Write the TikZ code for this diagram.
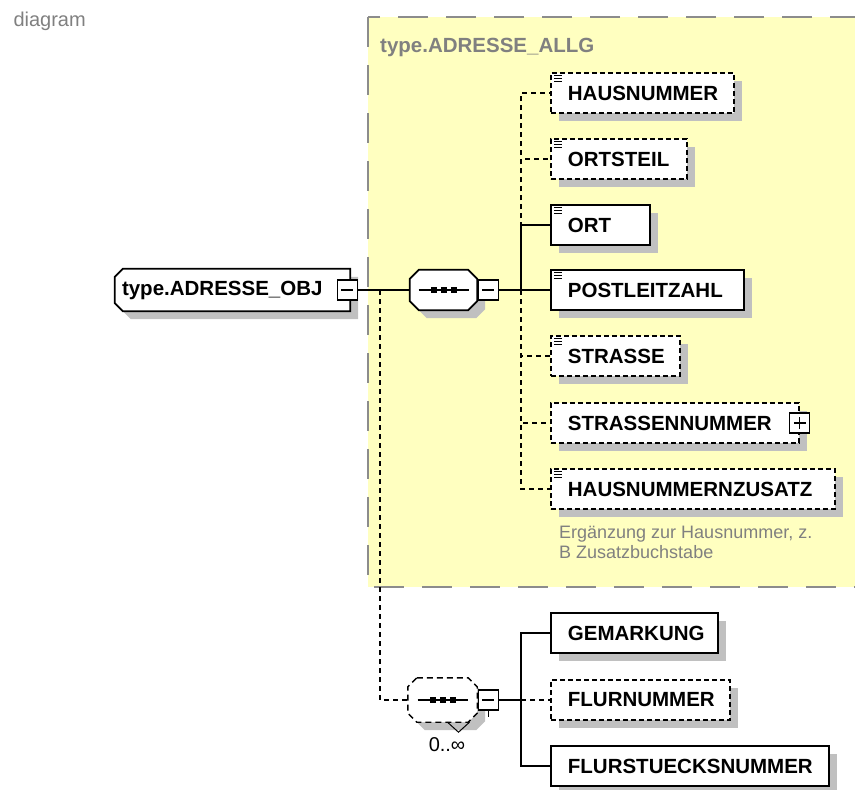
\documentclass[tikz,border=0pt]{standalone}
\usepackage{fontspec}
\setmainfont{Liberation Sans}
\usetikzlibrary{shadows,backgrounds}

\definecolor{schemayellow}{HTML}{FFFFC0}
\definecolor{shadowgray}{HTML}{C0C0C0}
\definecolor{framegray}{HTML}{8C8C8C}
\definecolor{notegray}{HTML}{808080}

% three little lines in the corner of a simple-type element
\newcommand{\typeicon}[1]{%
  \foreach \k in {3pt,6pt,9pt}
    \draw[line width=1.2pt] ([xshift=4pt,yshift=-\k]#1.north west) -- ++(8,0);}
% octagon round a compositor node
\newcommand{\compshape}[2]{%
  \draw[#2] ([xshift=9pt]#1.north west) -- ([xshift=-9pt]#1.north east)
    -- ([yshift=-9pt]#1.north east) -- ([yshift=9pt]#1.south east)
    -- ([xshift=-9pt]#1.south east) -- ([xshift=9pt]#1.south west)
    -- ([yshift=9pt]#1.south west) -- ([yshift=-9pt]#1.north west) -- cycle;}
% sequence symbol
\newcommand{\seqdots}[1]{%
  \draw[line width=1.5pt] ([xshift=-25pt]#1.center) -- ([xshift=25pt]#1.center);
  \foreach \d in {-10,0,10}
    \fill ([xshift=\d pt]#1.center) +(-3,-3) rectangle +(3,3);}

\begin{document}
\begin{tikzpicture}[x=1pt, y=-1pt,
    boxshadow/.style={drop shadow={shadow xshift=8pt, shadow yshift=-8pt, fill=shadowgray, draw=none, opacity=1}},
    elemfont/.style={font=\bfseries\fontsize{20.5}{24}\selectfont},
    elembox/.style={elemfont, draw, line width=1.8pt, fill=white, anchor=west, align=left,
      inner xsep=17pt, inner ysep=0pt, minimum height=40pt, boxshadow},
    elemreq/.style={elembox},
    elemopt/.style={elembox, dash pattern=on 5pt off 3pt},
    linkreq/.style={line width=1.4pt},
    linkopt/.style={line width=1.4pt, dash pattern=on 5pt off 4pt},
    button/.style={draw, fill=white, line width=1.2pt, minimum size=20pt, inner sep=0pt},
    minusbtn/.style={button, path picture={
      \draw[line width=1.2pt] ([xshift=-6pt]path picture bounding box.center) -- ([xshift=6pt]path picture bounding box.center);}},
    plusbtn/.style={button, path picture={
      \draw[line width=1.2pt] ([xshift=-6pt]path picture bounding box.center) -- ([xshift=6pt]path picture bounding box.center);
      \draw[line width=1.2pt] ([yshift=-6pt]path picture bounding box.center) -- ([yshift=6pt]path picture bounding box.center);}},
    compositor/.style={minimum width=67pt, minimum height=40pt, inner sep=0pt},
    notefont/.style={font=\fontsize{18}{20}\selectfont}]
  \useasboundingbox (0,0) rectangle (855,790);

  % complex type frame
  \begin{scope}[on background layer]
    \draw[framegray, line width=2.2pt, dash pattern=on 30pt off 18pt, fill=schemayellow] (368,17) rectangle (860,587);
  \end{scope}
  \node[font=\fontsize{20}{24}\selectfont, text=notegray, anchor=base west] (caption) at (10,26) {diagram};
  \node[elemfont, text=notegray, anchor=base west, inner sep=0pt] (title) at (380,52) {type.ADRESSE\_ALLG};

  % root element
  \node[elemfont, text width=221pt, align=left, inner xsep=7pt, inner ysep=0pt, minimum height=42pt] (obj) at (232.5,290) {type.ADRESSE\_OBJ};
  \begin{scope}[on background layer]
    \draw[line width=1.8pt, fill=white, boxshadow] ([xshift=8pt]obj.north west) -- (obj.north east) -- (obj.south east)
      -- ([xshift=8pt]obj.south west) -- ([yshift=8pt]obj.south west) -- ([yshift=-8pt]obj.north west) -- cycle;
  \end{scope}
  \node[minusbtn] (objbtn) at ([xshift=-3pt]obj.east) {};

  % upper sequence
  \node[compositor] (seqa) at (443.5,290) {};
  \compshape{seqa}{line width=1.8pt, fill=white, boxshadow}
  \seqdots{seqa}
  \node[minusbtn] (seqabtn) at ([xshift=11pt]seqa.east) {};
  \coordinate (seqaj) at (521,290);
  \draw[linkreq] (objbtn.east) -- (seqa.west);
  \draw[linkreq] (seqabtn.east) -- (seqaj);

  % elements of the sequence
  \foreach \name/\lbl/\y/\tw/\kind/\ic in {
      hausnr/HAUSNUMMER/93/149/opt/1,
      ortsteil/ORTSTEIL/159/102/opt/1,
      ort/ORT/225/65/req/1,
      plz/POSTLEITZAHL/290/159/req/1,
      strasse/STRASSE/356/95/opt/1,
      strnr/STRASSENNUMMER/423/214/opt/0,
      hnrzus/HAUSNUMMERNZUSATZ/489/250/opt/1}{
    \node[elem\kind, text width=\tw pt] (\name) at (550,\y) {\mbox{\lbl}};
    \draw[link\kind] (seqaj) |- (\name.west);
    \ifnum\ic=1 \typeicon{\name}\fi
  }
  \node[plusbtn] (strnrbtn) at (strnr.east) {};
  \node[notefont, text=notegray, anchor=north west, align=left, inner sep=0pt] (note)
    at ([xshift=9pt,yshift=-16pt]hnrzus.south west) {Ergänzung zur Hausnummer, z.\\B Zusatzbuchstabe};

  % lower sequence 0..oo
  \node[compositor, minimum width=69pt, minimum height=44pt] (seqb) at (442.5,700) {};
  \compshape{seqb}{line width=1.4pt, dash pattern=on 6pt off 4pt, fill=white, boxshadow}
  \seqdots{seqb}
  \node[minusbtn] (seqbbtn) at ([xshift=11pt]seqb.east) {};
  \draw[line width=1.2pt] (seqbbtn.south) -- ++(0,6);
  \draw[line width=1pt] ([xshift=5pt]seqb.south) -- ++(11,10) -- ++(11,-10);
  \node[font=\fontsize{20}{22}\selectfont, anchor=base] (mult) at (447,751) {0..∞};
  \coordinate (objj) at (380,290);
  \coordinate (seqbj) at (521,700);
  \draw[linkopt] (objj) |- (seqb.west);
  \draw[linkreq] (seqbbtn.east) -- (seqbj);

  \foreach \name/\lbl/\y/\tw/\kind in {
      gem/GEMARKUNG/633/133/req,
      flurnr/FLURNUMMER/700/145/opt,
      flurst/FLURSTUECKSNUMMER/766/244/req}{
    \node[elem\kind, text width=\tw pt] (\name) at (550,\y) {\mbox{\lbl}};
    \draw[link\kind] (seqbj) |- (\name.west);
  }
\end{tikzpicture}
\end{document}
